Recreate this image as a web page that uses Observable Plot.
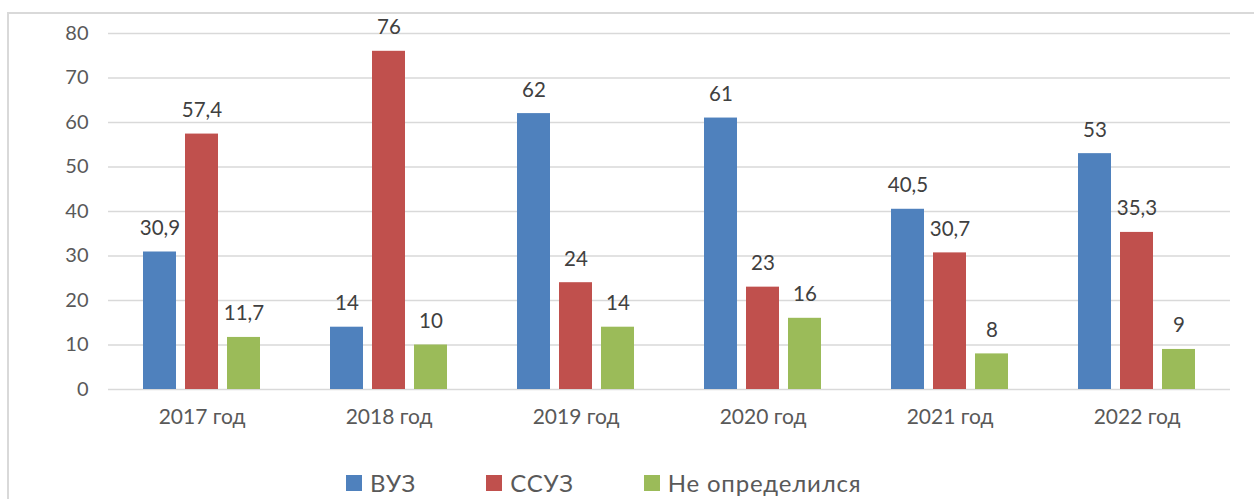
<!DOCTYPE html>
<html>
<head>
<meta charset="utf-8">
<script src="https://cdn.jsdelivr.net/npm/d3@7"></script>
<script src="https://cdn.jsdelivr.net/npm/@observablehq/plot@0.6"></script>
<style>
  html, body { margin: 0; padding: 0; background: #fff; overflow: hidden; width: 1254px; height: 499px; }
  #wrap { position: relative; width: 1254px; height: 499px; font-family: Lato, "Open Sans", sans-serif; }
  #frame { position: absolute; left: 7px; top: 12px; width: 1400px; height: 700px; border-left: 2px solid #d9d9d9; border-top: 2px solid #d9d9d9; }
  #chart { position: absolute; left: 0; top: 0; }
  #legend { position: absolute; left: 346px; top: 468px; height: 29px; line-height: 29px; display: flex; gap: 70px; align-items: center; font-size: 24px; letter-spacing: 0.8px; color: #595959; }
  .item { display: flex; align-items: center; gap: 8px; }
  .sw { width: 16px; height: 16px; display: inline-block; }
</style>
</head>
<body>
<div id="wrap">
  <div id="frame"></div>
  <div id="chart"></div>
  <div id="legend"></div>
</div>
<script>
const years = ["2017 год", "2018 год", "2019 год", "2020 год", "2021 год", "2022 год"];
const series = ["ВУЗ", "ССУЗ", "Не определился"];
const colors = ["#4F81BD", "#C0504D", "#9BBB59"];
const vuz = [30.9, 14, 62, 61, 40.5, 53];
const ssuz = [57.4, 76, 24, 23, 30.7, 35.3];
const neopr = [11.7, 10, 14, 16, 8, 9];
const yTicks = [0, 10, 20, 30, 40, 50, 60, 70, 80];

const valuesBySeries = [vuz, ssuz, neopr];
const data = [];
years.forEach((yr, i) => {
  series.forEach((s, j) => {
    data.push({year: yr, series: s, value: valuesBySeries[j][i]});
  });
});
const fmt = v => String(v).replace(".", ",");

const chart = Plot.plot({
  width: 1254,
  height: 440,
  marginLeft: 108,
  marginRight: 24,
  marginTop: 33,
  marginBottom: 51,
  style: {fontFamily: "Lato, 'Open Sans', sans-serif", fontSize: "20px", background: "transparent", overflow: "visible"},
  fx: {domain: years, padding: 0, label: null},
  x: {domain: series, axis: null, paddingInner: 0.21, paddingOuter: 0.83},
  y: {domain: [0, 80], label: null},
  color: {domain: series, range: colors},
  marks: [
    Plot.ruleY(yTicks, {stroke: "#d9d9d9", strokeWidth: 1.5, strokeOpacity: 1}),
    Plot.axisY({ticks: yTicks, tickSize: 0, tickPadding: 20, label: null, fill: "#595959", fontSize: 20}),
    Plot.axisFx({anchor: "bottom", tickSize: 0, tickPadding: 20, label: null, fill: "#595959", fontSize: 21}),
    Plot.barY(data, {fx: "year", x: "series", y: "value", fill: "series"}),
    Plot.text(data, {fx: "year", x: "series", y: "value", text: d => fmt(d.value), lineAnchor: "bottom", dy: -17, fill: "#404040", fontSize: 20.5})
  ]
});
document.getElementById("chart").appendChild(chart);

const legend = document.getElementById("legend");
series.forEach((s, i) => {
  const item = document.createElement("div");
  item.className = "item";
  const sw = document.createElement("span");
  sw.className = "sw";
  sw.style.background = colors[i];
  const t = document.createElement("span");
  t.textContent = s;
  item.appendChild(sw);
  item.appendChild(t);
  legend.appendChild(item);
});
</script>
</body>
</html>
